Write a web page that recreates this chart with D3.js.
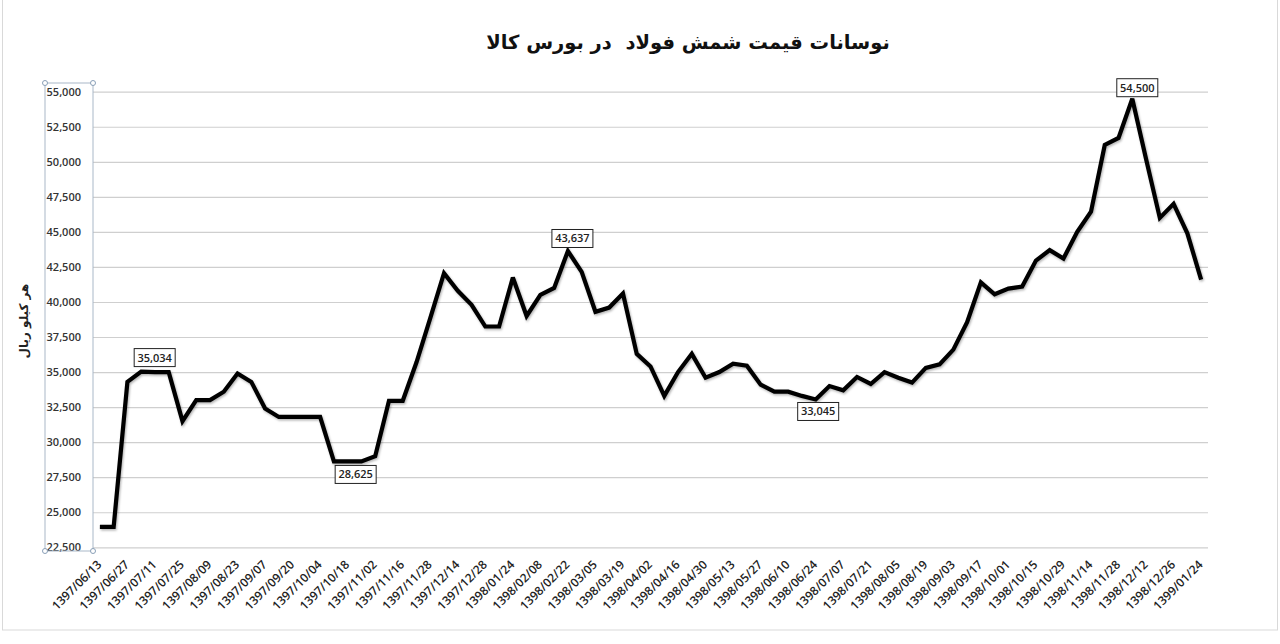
<!DOCTYPE html>
<html><head><meta charset="utf-8">
<script src="https://cdn.jsdelivr.net/npm/d3@7/dist/d3.min.js"></script>
<style>
html,body{margin:0;padding:0;background:#fff;}
svg{display:block;}
</style></head>
<body>
<svg id="chart" width="1280" height="644"></svg>
<script>
const title = "نوسانات قیمت شمش فولاد  در بورس کالا";
const yTitle = "هر کیلو ریال";
const tickLabels = ["1397/06/13","1397/06/27","1397/07/11","1397/07/25","1397/08/09","1397/08/23","1397/09/07","1397/09/20","1397/10/04","1397/10/18","1397/11/02","1397/11/16","1397/11/28","1397/12/14","1397/12/28","1398/01/24","1398/02/08","1398/02/22","1398/03/05","1398/03/19","1398/04/02","1398/04/16","1398/04/30","1398/05/13","1398/05/27","1398/06/10","1398/06/24","1398/07/07","1398/07/21","1398/08/05","1398/08/19","1398/09/03","1398/09/17","1398/10/01","1398/10/15","1398/10/29","1398/11/14","1398/11/28","1398/12/12","1398/12/26","1399/01/24"];
const prices = [23950,23950,34300,35034,35000,35000,31500,33000,33000,33600,
  34900,34300,32400,31800,31800,31800,31800,28625,28625,28625,
  29000,32950,32950,35700,38850,42050,40800,39800,38250,38250,
  41750,39000,40500,41000,43637,42150,39300,39600,40600,36300,
  35400,33300,35000,36300,34600,35000,35600,35450,34100,33600,
  33600,33300,33045,34000,33700,34650,34150,35000,34600,34250,
  35300,35550,36600,38550,41400,40550,40950,41100,42950,43700,
  43100,45000,46450,51200,51700,54500,50200,46000,47000,44900,41600];
const yTicks = [22500,25000,27500,30000,32500,35000,37500,40000,42500,45000,47500,50000,52500,55000];
const labelIdx = [3,18,34,52,75];

(function(){
const svg = d3.select("#chart");
const pL = 93, pR = 1208, pT = 91.7, pB = 547.3;
const idx = d3.range(prices.length);
const x = d3.scalePoint().domain(idx).range([pL, pR]).padding(0.5);
const y = d3.scaleLinear().domain([22500,55000]).range([pB, pT]);

// chart border
svg.append("rect").attr("x",2.5).attr("y",-2).attr("width",1275).attr("height",632)
  .attr("fill","none").attr("stroke","#d9d9d9");

const defs = svg.append("defs");
const f = defs.append("filter").attr("id","sh").attr("x","-5%").attr("y","-5%").attr("width","110%").attr("height","115%");
f.append("feDropShadow").attr("dx",1).attr("dy",1.5).attr("stdDeviation",1.3).attr("flood-color","#000").attr("flood-opacity",0.3);

// gridlines + y labels
const yAxis = d3.axisLeft(y).tickValues(yTicks).tickSize(-(pR-pL)).tickFormat(d3.format(","));
const gy = svg.append("g").attr("transform",`translate(${pL},0)`).call(yAxis);
gy.select(".domain").remove();
gy.selectAll(".tick line").attr("stroke","#cfcfcf").attr("stroke-width",1.2);
gy.selectAll(".tick text").attr("x",-12).attr("fill","#333")
  .style("font-family","'Open Sans',sans-serif").style("font-size","11px").style("font-weight","600");

// selection box around y labels
svg.append("rect").attr("x",45).attr("y",83).attr("width",48).attr("height",468)
  .attr("fill","none").attr("stroke","#a9b8c8").attr("stroke-width",1);
[[45,83],[93,83],[45,551],[93,551]].forEach(p=>{
  svg.append("circle").attr("cx",p[0]).attr("cy",p[1]).attr("r",2.5)
    .attr("fill","#fff").attr("stroke","#8aa0b8").attr("stroke-width",1);
});

// x labels
const xAxis = d3.axisBottom(x).tickValues(idx.filter(i=>i%2===0)).tickSize(0)
  .tickFormat(i=>tickLabels[i/2]);
const gx = svg.append("g").attr("transform",`translate(0,${pB})`).call(xAxis);
gx.select(".domain").remove();
gx.selectAll(".tick text")
  .attr("text-anchor","end").attr("transform","translate(-1,15) rotate(-45)")
  .attr("x",0).attr("y",0).attr("dy","0.35em").attr("fill","#222")
  .style("font-family","'Open Sans',sans-serif").style("font-size","12px").style("font-weight","600");

// line
const line = d3.line().x((d,i)=>x(i)).y(d=>y(d));
svg.append("path").datum(prices).attr("d",line).attr("fill","none")
  .attr("stroke","#000").attr("stroke-width",4.2).attr("stroke-linejoin","miter").attr("stroke-miterlimit",3)
  .attr("filter","url(#sh)");

// data labels
const offs = {3:[13.5,-14],18:[8,13],34:[4.5,-12.5],52:[2.5,12],75:[5,-11]};
const fmt = d3.format(",");
labelIdx.forEach(i=>{
  const cx = x(i)+offs[i][0], cy = y(prices[i])+offs[i][1];
  const g = svg.append("g").attr("transform",`translate(${cx},${cy})`);
  g.append("rect").attr("x",-20.5).attr("y",-9).attr("width",41).attr("height",18)
    .attr("fill","#fff").attr("stroke","#222").attr("stroke-width",1);
  g.append("text").attr("text-anchor","middle").attr("dy","0.36em").attr("fill","#222")
    .style("font-family","'Open Sans',sans-serif").style("font-size","11px").style("font-weight","600")
    .text(fmt(prices[i]));
});

// title
svg.append("text").attr("x",688).attr("y",49).attr("text-anchor","middle")
  .attr("direction","rtl").attr("fill","#111").style("white-space","pre")
  .style("font-family","'DejaVu Sans',sans-serif").style("font-size","19.5px").style("font-weight","bold")
  .text(title);

// y title
svg.append("text").attr("transform","translate(24,321) rotate(-90)").attr("text-anchor","middle")
  .attr("direction","rtl").attr("dy","0.35em").attr("fill","#222")
  .style("font-family","'DejaVu Sans',sans-serif").style("font-size","12px").style("font-weight","bold")
  .text(yTitle);
})();
</script>
</body></html>
